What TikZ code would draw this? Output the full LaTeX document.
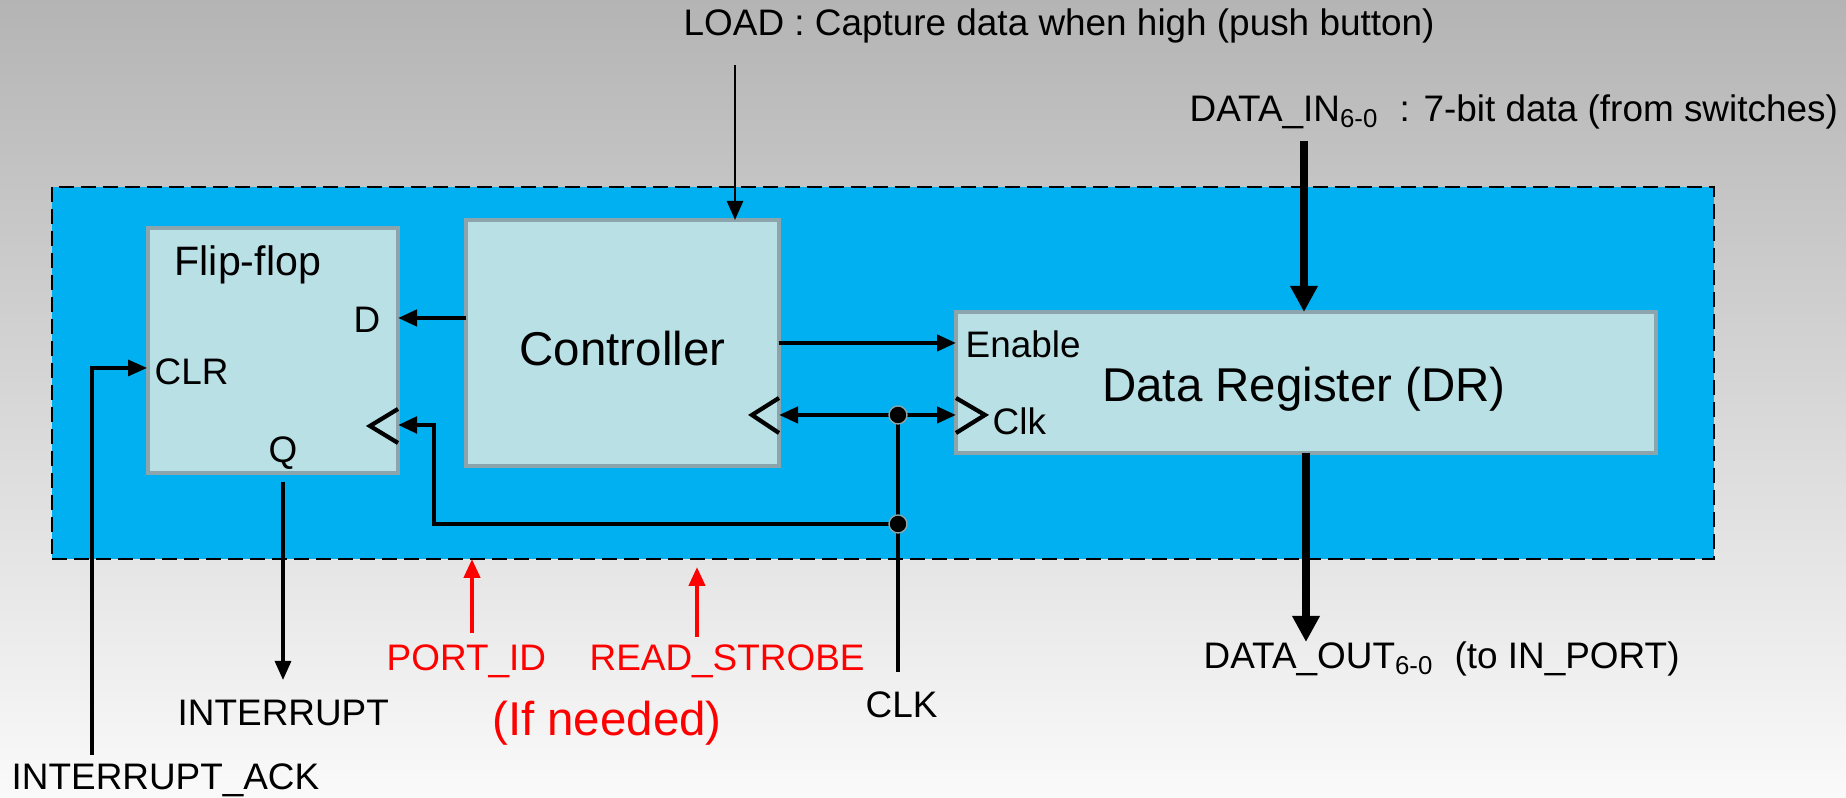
\documentclass[tikz,border=0pt]{standalone}
\usepackage{fontspec}
\setmainfont{Liberation Sans}
\usetikzlibrary{arrows.meta}
\definecolor{fondoA}{RGB}{180,180,180}
\definecolor{fondoB}{RGB}{250,250,250}
\definecolor{azul}{RGB}{0,176,240}
\definecolor{caja}{RGB}{185,224,229}
\definecolor{borde}{RGB}{140,165,172}
\definecolor{rojo}{RGB}{255,0,0}
\tikzset{
  bloque/.style={draw=borde, line width=1pt, fill=caja, outer sep=0pt},
  etiq/.style={font=\fontsize{10.5}{12.6}\selectfont, inner sep=0pt},
  grande/.style={font=\fontsize{13.5}{16}\selectfont, inner sep=0pt},
  flecha/.style={line width=1.2pt, -{Triangle[length=0.19cm,width=0.16cm]}},
  gruesa/.style={line width=2.4pt, -{Triangle[length=0.26cm,width=0.26cm]}},
  reloj/.style={line width=1.2pt},
}
\begin{document}
\begin{tikzpicture}
	% Fondo
		\shade[top color=fondoA, bottom color=fondoB] (0,0) rectangle (18.46,7.98);
		\useasboundingbox (0,0) rectangle (18.46,7.98);

	% Sistema
		\node[draw, fill=azul, line width=0.8pt, dash pattern=on 0.15cm off 0.07cm,
		      minimum width=16.62cm, minimum height=3.72cm, outer sep=0pt] (sistema) at (8.83,4.25) {};

	% Bloques
		\node[bloque, minimum width=2.5cm, minimum height=2.45cm] (ff) at (2.73,4.475) {};
		\node[bloque, minimum width=3.13cm, minimum height=2.46cm] (ctrl) at (6.225,4.55) {};
		\node[bloque, minimum width=7cm, minimum height=1.41cm] (dr) at (13.06,4.155) {};

	% Etiquetas internas
		\node[etiq, anchor=west, font=\fontsize{11.7}{14}\selectfont] (ffname) at (1.74,5.33) {Flip-flop};
		\node[etiq] (ffd) at (3.67,4.78) {D};
		\node[etiq, anchor=west] (ffclr) at (1.54,4.26) {CLR};
		\node[etiq] (ffq) at (2.83,3.45) {Q};
		\node[grande] (ctrlname) at (6.225,4.49) {Controller};
		\node[grande] (drname) at (13.04,4.09) {Data Register (DR)};
		\node[etiq, anchor=west] (dren) at (9.65,4.54) {Enable};
		\node[etiq, anchor=west] (drclk) at (9.92,3.77) {Clk};

	% Relojes
		\draw[reloj] (3.98,3.89) -- (3.70,3.72) -- (3.98,3.55);
		\draw[reloj] (7.79,4.00) -- (7.52,3.83) -- (7.79,3.65);
		\draw[reloj] (9.56,4.00) -- (9.85,3.83) -- (9.56,3.65);

	% Textos externos
		\node[etiq, anchor=west] (load) at (6.83,7.72) {LOAD : Capture data when high (push button)};
		\node[etiq, anchor=west] (din) at (11.89,6.86) {DATA\_IN\textsubscript{6-0}\ \ : 7-bit data (from switches)};
		\node[etiq, anchor=west] (dout) at (12.03,1.39) {DATA\_OUT\textsubscript{6-0}\ \ (to IN\_PORT)};
		\node[etiq, anchor=west] (ack) at (0.11,0.18) {INTERRUPT\_ACK};
		\node[etiq, anchor=west] (irq) at (1.77,0.85) {INTERRUPT};
		\node[etiq, anchor=west, text=rojo] (pid) at (3.86,1.37) {PORT\_ID};
		\node[etiq, anchor=west, text=rojo] (rs) at (5.89,1.37) {READ\_STROBE};
		\node[grande, text=rojo] (needed) at (6.07,0.75) {(If needed)};
		\node[etiq, anchor=west] (clk) at (8.65,0.93) {CLK};

	% Puntos de conexion
		\coordinate (loadin) at (7.35,7.33);
		\coordinate (dinin) at (13.04,6.57);
		\coordinate (doutend) at (13.06,1.56);
		\coordinate (dd) at (4.3,4.80);
		\coordinate (en) at (8.5,4.55);
		\coordinate (j1) at (8.98,3.83);
		\coordinate (j2) at (8.98,2.74);
		\coordinate (codo) at (4.34,2.74);
		\coordinate (ffclk) at (3.98,3.73);
		\coordinate (clkin) at (8.98,1.26);
		\coordinate (qout) at (2.83,3.16);
		\coordinate (irqend) at (2.83,1.18);
		\coordinate (ackin) at (0.92,0.43);
		\coordinate (clrin) at (1.47,4.30);
		\coordinate (pidin) at (4.72,1.65);
		\coordinate (rsin) at (6.97,1.61);

	% Conexiones
		\draw[flecha, line width=0.7pt] (loadin) -- (loadin |- ctrl.north);
		\draw[gruesa] (dinin) -- (dinin |- dr.north);
		\draw[gruesa] (doutend |- dr.south) -- (doutend);
		\draw[flecha] (ctrl.west |- dd) -- (ff.east |- dd);
		\draw[flecha] (ctrl.east |- en) -- (dr.west |- en);
		\draw[flecha, {Triangle[length=0.19cm,width=0.16cm]}-{Triangle[length=0.19cm,width=0.16cm]}] (ctrl.east |- j1) -- (dr.west |- j1);
		\draw[flecha, line width=1.4pt] (j2) -- (codo) |- (ff.east |- ffclk);
		\draw[line width=1pt] (j1) -- (clkin);
		\draw[flecha, line width=0.9pt] (qout) -- (irqend);
		\draw[flecha, line width=0.9pt] (ackin) |- (clrin);
		\draw[flecha, draw=rojo, fill=rojo] (pidin) -- (pidin |- sistema.south);
		\draw[flecha, draw=rojo, fill=rojo] (rsin) -- ++(0,0.70);

	% Nodos
		\draw[borde, fill=black] (j1) circle[radius=0.09];
		\draw[borde, fill=black] (j2) circle[radius=0.09];
\end{tikzpicture}
\end{document}
